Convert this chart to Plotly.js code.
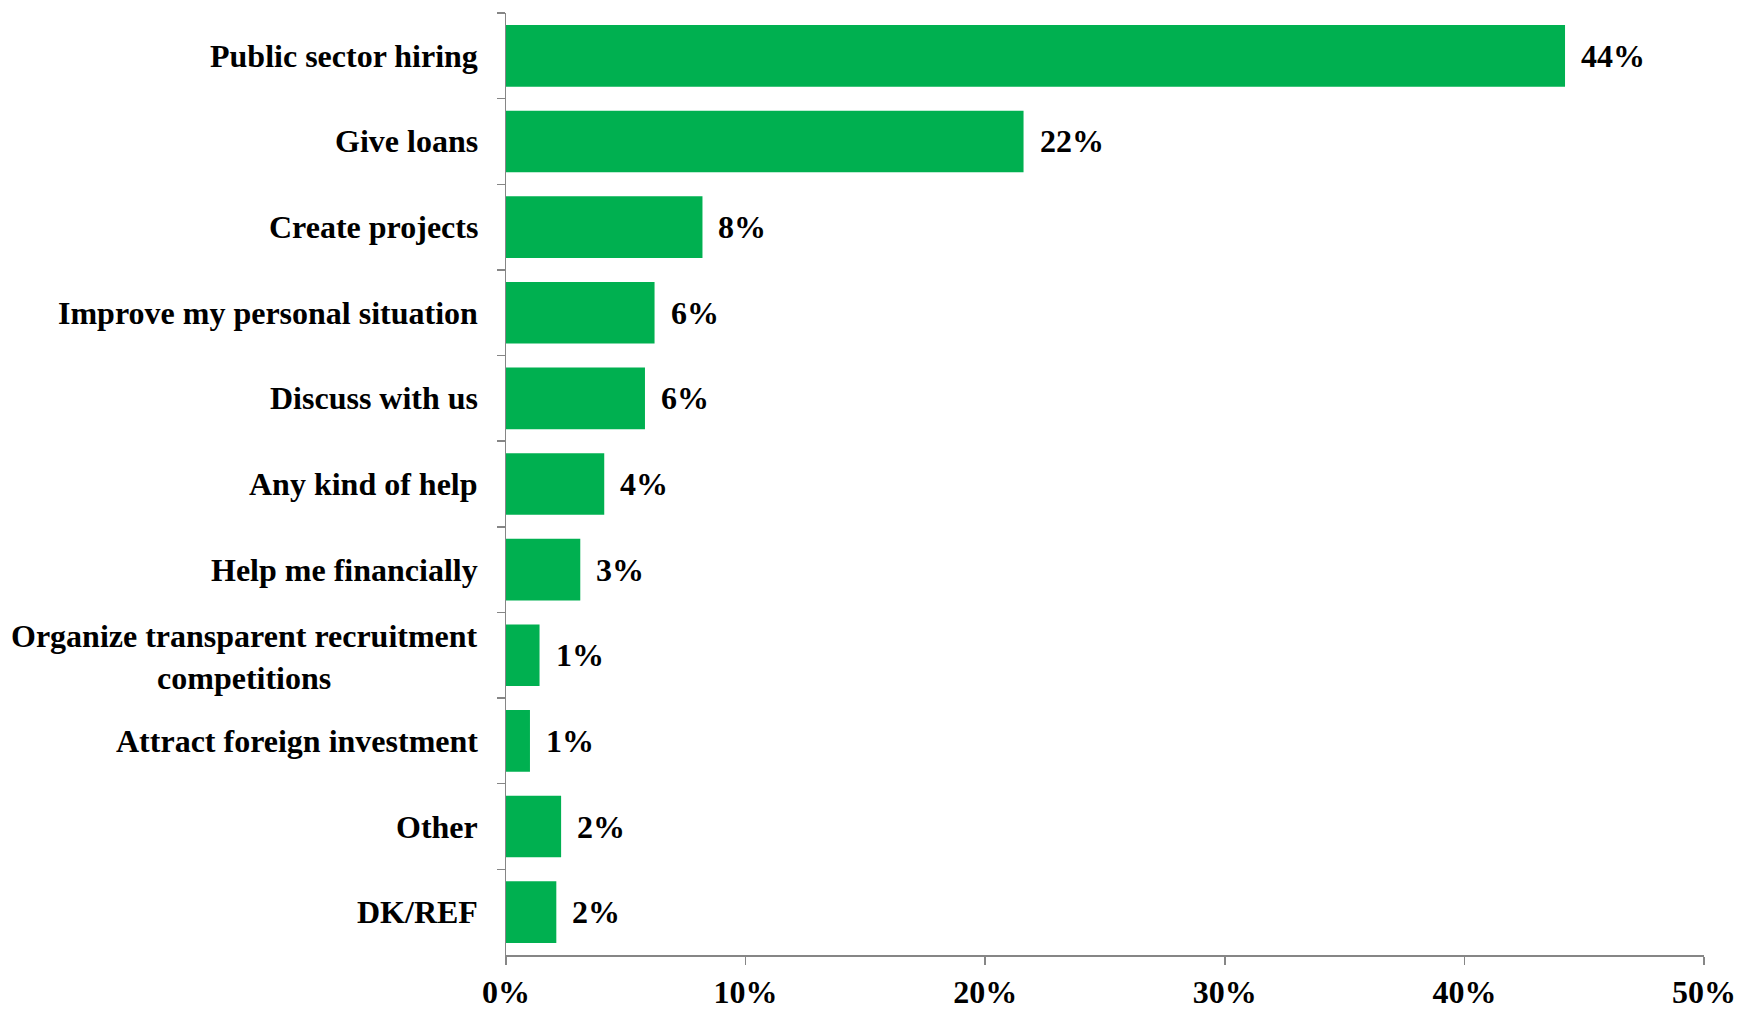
<!DOCTYPE html>
<html>
<head>
<meta charset="utf-8">
<script src="https://cdn.plot.ly/plotly-3.0.1.min.js"></script>
<style>html,body{margin:0;padding:0;background:#fff;}#chart{width:1737px;height:1009px;}</style>
</head>
<body>
<div id="chart"></div>
<script>
const categories = [
  "Public sector hiring",
  "Give loans",
  "Create projects",
  "Improve my personal situation",
  "Discuss with us",
  "Any kind of help",
  "Help me financially",
  "Organize transparent recruitment<br>competitions",
  "Attract foreign investment",
  "Other",
  "DK/REF"
];
const values = [44.2, 21.6, 8.2, 6.2, 5.8, 4.1, 3.1, 1.4, 1.0, 2.3, 2.1];
const valueLabels = ["44%", "22%", "8%", "6%", "6%", "4%", "3%", "1%", "1%", "2%", "2%"];
const xTickVals = [0, 10, 20, 30, 40, 50];
const xTickText = ["0%", "10%", "20%", "30%", "40%", "50%"];

const FONT = "Liberation Serif, Times New Roman, serif";
const FS = 32;

const trace = {
  type: "bar",
  orientation: "h",
  y: categories,
  x: values,
  marker: {color: "#00B050"},
  hoverinfo: "none"
};

const annotations = [];
categories.forEach((c, i) => {
  annotations.push({
    x: 0, y: c, xref: "x", yref: "y",
    text: "<b>" + c + "</b>",
    xanchor: "right", yanchor: "middle", align: "center",
    xshift: -26, yshift: c.indexOf("<br>") >= 0 ? -2 : 0, showarrow: false,
    font: {family: FONT, size: FS, color: "#000"}
  });
  annotations.push({
    x: values[i], y: c, xref: "x", yref: "y",
    text: "<b>" + valueLabels[i] + "</b>",
    xanchor: "left", yanchor: "middle",
    xshift: 14, showarrow: false,
    font: {family: FONT, size: FS, color: "#000"}
  });
});

const layout = {
  width: 1737, height: 1009,
  margin: {l: 506, r: 33, t: 13, b: 54},
  paper_bgcolor: "#fff", plot_bgcolor: "#fff",
  bargap: 0.28,
  showlegend: false,
  font: {family: FONT, size: FS, color: "#000"},
  xaxis: {
    range: [0, 50],
    tickvals: xTickVals,
    ticktext: xTickText.map(t => "<b>" + t + "</b>"),
    ticks: "outside", ticklen: 8, tickcolor: "#868686", tickwidth: 1.5,
    showline: true, linecolor: "#868686", linewidth: 2,
    showgrid: false, zeroline: false,
    tickfont: {family: FONT, size: FS, color: "#000"},
    ticklabelstandoff: 0,
    fixedrange: true
  },
  yaxis: {
    type: "category",
    autorange: "reversed",
    tickson: "boundaries",
    ticks: "outside", ticklen: 8, tickcolor: "#868686", tickwidth: 1.5,
    showline: true, linecolor: "#868686", linewidth: 1.5,
    showgrid: false, zeroline: false,
    showticklabels: false,
    fixedrange: true
  },
  annotations: annotations
};

Plotly.newPlot("chart", [trace], layout, {displayModeBar: false, staticPlot: true});
</script>
</body>
</html>
